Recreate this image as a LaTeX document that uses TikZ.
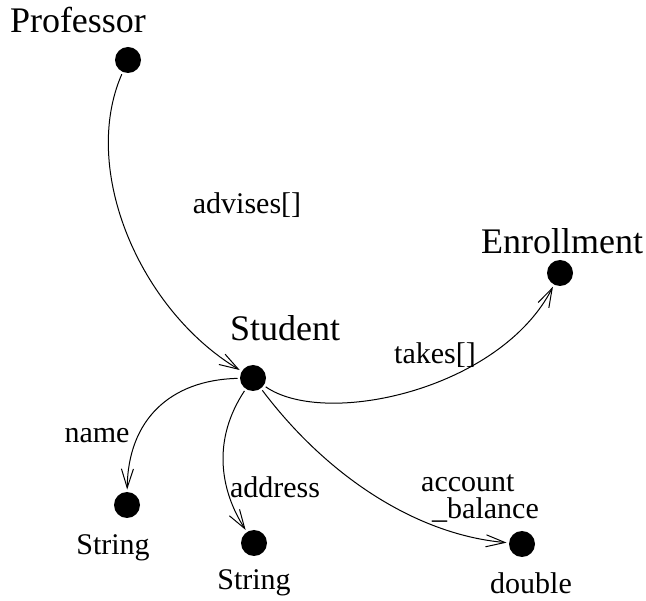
\documentclass[tikz,border=0pt]{standalone}
\usepackage{fontspec}
\setmainfont{Liberation Serif}
\usetikzlibrary{arrows.meta}

\begin{document}
\begin{tikzpicture}[
    x=1pt, y=-1pt,
    dot/.style = {circle, fill=black, minimum size=26pt, inner sep=0pt, outer sep=2.5pt},
    classname/.style = {font=\fontsize{36}{38}\selectfont, inner sep=0pt},
    fieldname/.style = {font=\fontsize{30}{27}\selectfont, inner sep=0pt, align=left},
    typename/.style = {font=\fontsize{30}{32}\selectfont, inner sep=0pt},
    >={Straight Barb[length=19pt, width=12pt]}, line width=1pt]

    \useasboundingbox (0,0) rectangle (646,601);

    \node[dot] (prof) at (128,60) {};
    \node[dot] (stud) at (253,378) {};
    \node[dot] (enroll) at (560,273) {};
    \node[dot] (str1) at (127,505) {};
    \node[dot] (str2) at (254,543) {};
    \node[dot] (dbl) at (522,544) {};

    \node[classname] (profL) at (78,20) {Professor};
    \node[classname] (studL) at (285,328) {Student};
    \node[classname] (enrollL) at (562,241) {Enrollment};
    \node[typename] (str1L) at (113,548) {String};
    \node[typename] (str2L) at (254,583) {String};
    \node[typename] (dblL) at (531,583) {double};

    \node[fieldname] (advL) at (247,205) {advises[]};
    \node[fieldname] (takesL) at (435,355) {takes[]};
    \node[fieldname] (nameL) at (97,436) {name};
    \node[fieldname] (addrL) at (275,487) {address};
    \node[fieldname] (balL) at (480,498) {account\\\hspace*{11pt}\_balance};

    \draw[->] (prof) .. controls (80,170) and (140,310) .. (stud);
    \draw[->] (stud) .. controls (325,428) and (500,390) .. (enroll);
    \draw[->] (stud) .. controls (170,380) and (128,420) .. (str1);
    \draw[->] (stud) .. controls (212,440) and (220,490) .. (str2);
    \draw[->] (stud) .. controls (330,480) and (420,535) .. (dbl);
\end{tikzpicture}
\end{document}
